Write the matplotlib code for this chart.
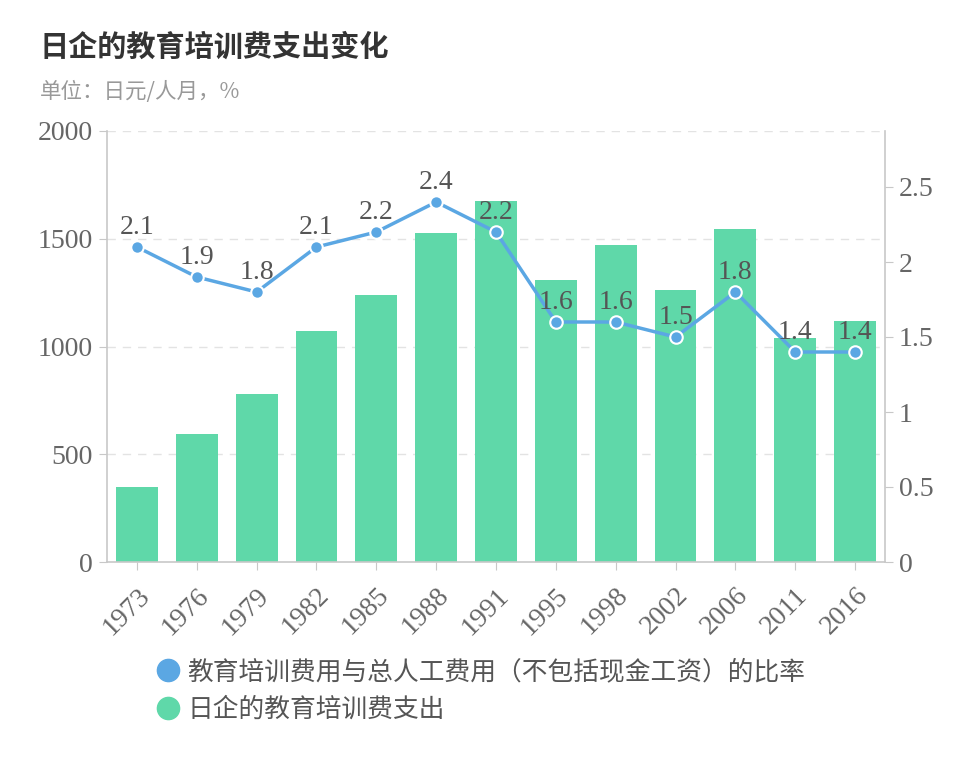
import matplotlib
matplotlib.use("Agg")
import matplotlib.pyplot as plt
from matplotlib.lines import Line2D

plt.rcParams['font.family'] = ['Noto Sans CJK SC', 'DejaVu Sans']

years = ['1973', '1976', '1979', '1982', '1985', '1988', '1991',
         '1995', '1998', '2002', '2006', '2011', '2016']
spend = [350, 595, 780, 1070, 1240, 1525, 1675, 1310, 1470, 1260, 1545, 1040, 1120]
ratio = [2.1, 1.9, 1.8, 2.1, 2.2, 2.4, 2.2, 1.6, 1.6, 1.5, 1.8, 1.4, 1.4]
left_ticks = [0, 500, 1000, 1500, 2000]
right_ticks = [0, 0.5, 1, 1.5, 2, 2.5]
right_labels = ['0', '0.5', '1', '1.5', '2', '2.5']

title = '日企的教育培训费支出变化'
subtitle = '单位：日元/人月，%'
line_name = '教育培训费用与总人工费用（不包括现金工资）的比率'
bar_name = '日企的教育培训费支出'

bar_color = '#5fd8a9'
line_color = '#5ba7e3'
axis_color = '#c8c8c8'
tick_color = '#666666'
num_font = ['Liberation Serif', 'DejaVu Serif']
num_size = 20

fig = plt.figure(figsize=(9.74, 7.63), dpi=100)
ax = fig.add_axes([107/974, 1-562/763, (885-107)/974, (562-131)/763])
x = list(range(len(years)))
ax.bar(x, spend, width=0.7, color=bar_color, zorder=2)
ax.set_xlim(-0.5, len(years)-0.5)
ax.set_ylim(0, 2000)
ax.set_yticks(left_ticks)
ax.set_yticklabels([str(t) for t in left_ticks], fontsize=num_size, color=tick_color, family=num_font)
ax.set_xticks(x)
ax.set_xticklabels(years, rotation=45, ha='right', rotation_mode='anchor',
                   fontsize=num_size, color=tick_color, family=num_font)
ax.tick_params(axis='y', length=6, color=axis_color, pad=4)
ax.tick_params(axis='x', length=6, color=axis_color, pad=9)
for t in left_ticks[1:]:
    ax.axhline(t, color='#e3e3e3', lw=1, ls=(0, (6, 5)), zorder=1)
for s in ['top', 'right']:
    ax.spines[s].set_visible(False)
for s in ['left', 'bottom']:
    ax.spines[s].set_color(axis_color)
    ax.spines[s].set_linewidth(1.2)

ax2 = ax.twinx()
ax2.set_ylim(0, 431/150)
ax2.plot(x, ratio, color=line_color, lw=2.5, marker='o', markersize=9,
         markerfacecolor=line_color, markeredgecolor='white', markeredgewidth=1.5, zorder=5)
for xi, r in zip(x, ratio):
    ax2.annotate(f'{r:.1f}', (xi, r), xytext=(0, 5), textcoords='offset points',
                 ha='center', va='bottom', fontsize=num_size, color='#555555', family=num_font, zorder=6)
ax2.set_yticks(right_ticks)
ax2.set_yticklabels(right_labels, fontsize=num_size, color=tick_color, family=num_font)
ax2.tick_params(axis='y', length=6, color=axis_color, pad=4)
for s in ['top', 'left', 'bottom']:
    ax2.spines[s].set_visible(False)
ax2.spines['right'].set_color(axis_color)
ax2.spines['right'].set_linewidth(1.2)

fig.text(40/974, 1-47/763, title, fontsize=21, fontweight='bold', color='#333333', va='center', ha='left')
fig.text(40/974, 1-92/763, subtitle, fontsize=15.5, color='#999999', va='center', ha='left')

handles = [Line2D([], [], ls='', marker='o', markersize=16, color=line_color),
           Line2D([], [], ls='', marker='o', markersize=16, color=bar_color)]
fig.legend(handles, [line_name, bar_name], loc='upper left',
           bbox_to_anchor=(155/974, 1-659/763), frameon=False, fontsize=18.5,
           labelcolor='#555555', handletextpad=0.25, labelspacing=0.45, handlelength=1.0,
           borderaxespad=0, borderpad=0)

fig.savefig('out.png', dpi=100)
